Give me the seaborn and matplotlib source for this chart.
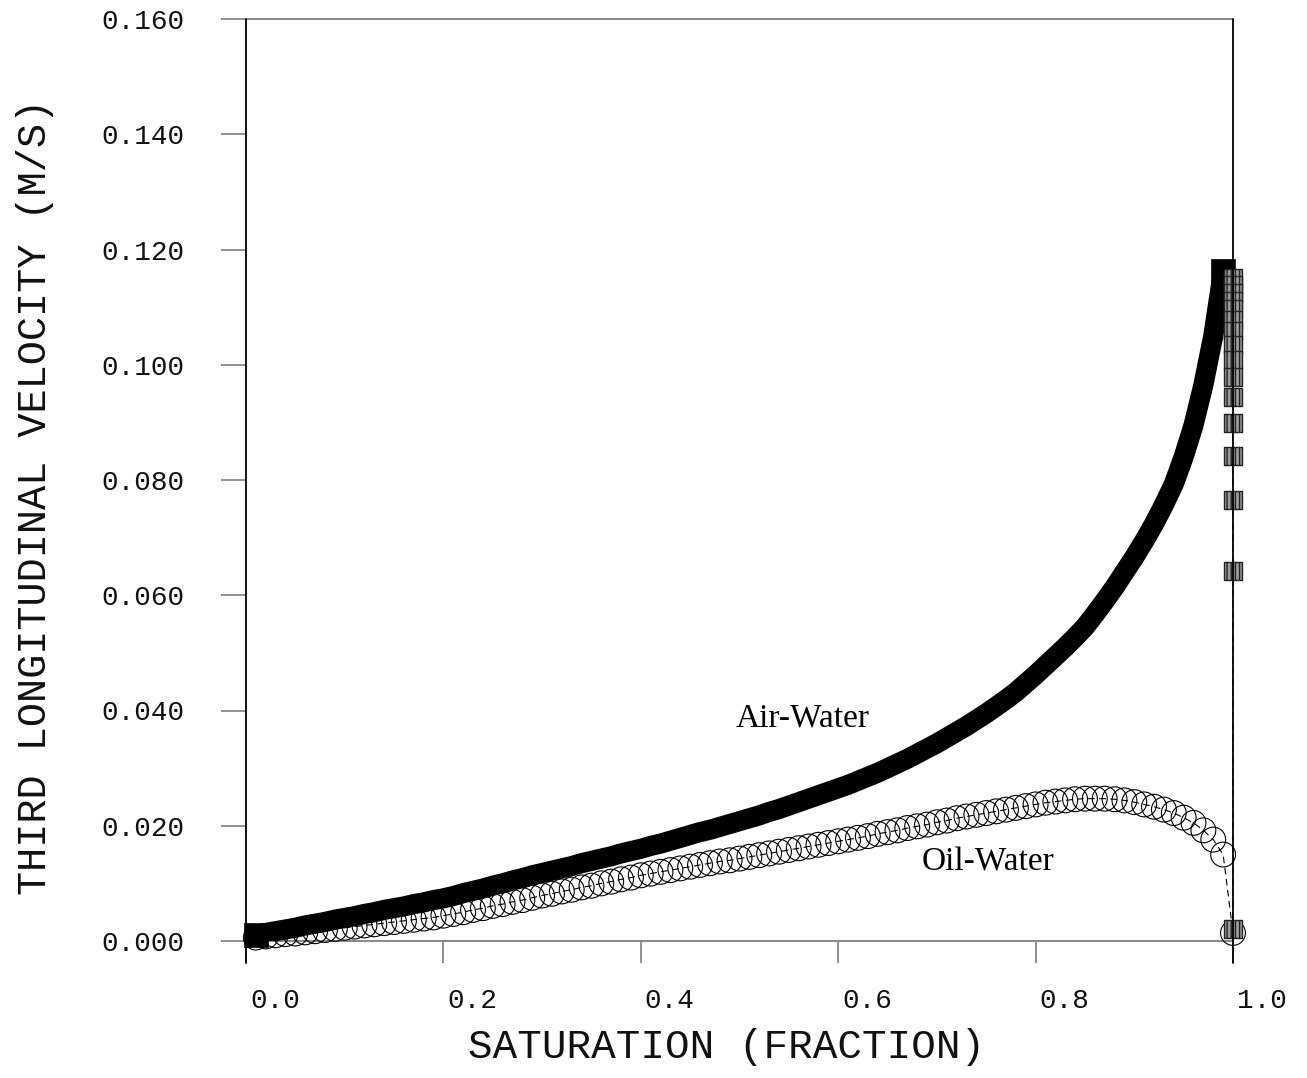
import matplotlib
matplotlib.use("Agg")
import matplotlib.pyplot as plt
import matplotlib.transforms as mtransforms
import seaborn as sns
import pandas as pd

# ---- data -------------------------------------------------------------
saturation = [i / 100 for i in range(1, 100)]

air_water = [
    0.0010, 0.0014, 0.0017, 0.0020, 0.0023, 0.0027, 0.0030, 0.0033, 0.0037, 0.0040,
    0.0043, 0.0047, 0.0050, 0.0054, 0.0057, 0.0060, 0.0064, 0.0067, 0.0071, 0.0074,
    0.0078, 0.0083, 0.0087, 0.0091, 0.0096, 0.0100, 0.0105, 0.0109, 0.0114, 0.0118,
    0.0122, 0.0126, 0.0130, 0.0135, 0.0139, 0.0143, 0.0147, 0.0152, 0.0156, 0.0160,
    0.0165, 0.0169, 0.0174, 0.0179, 0.0184, 0.0189, 0.0193, 0.0198, 0.0203, 0.0208,
    0.0213, 0.0218, 0.0224, 0.0229, 0.0235, 0.0241, 0.0247, 0.0253, 0.0259, 0.0265,
    0.0271, 0.0278, 0.0285, 0.0292, 0.0300, 0.0308, 0.0316, 0.0325, 0.0334, 0.0343,
    0.0353, 0.0363, 0.0373, 0.0384, 0.0395, 0.0407, 0.0419, 0.0432, 0.0447, 0.0462,
    0.0478, 0.0494, 0.0510, 0.0527, 0.0545, 0.0567, 0.0590, 0.0614, 0.0640, 0.0666,
    0.0694, 0.0724, 0.0757, 0.0793, 0.0840, 0.0895, 0.0965, 0.1050, 0.1163,
]

# air-water points at full saturation (velocity collapsing toward zero)
air_water_end_sat = 1.0
air_water_end = [
    0.1150, 0.1138, 0.1125, 0.1111, 0.1096, 0.1078, 0.1058, 0.1034,
    0.1008, 0.0979, 0.0944, 0.0899, 0.0842, 0.0765, 0.0642, 0.0021,
]

oil_water = [
    0.0006, 0.0008, 0.0010, 0.0012, 0.0013, 0.0015, 0.0017, 0.0019, 0.0021, 0.0023,
    0.0025, 0.0027, 0.0029, 0.0031, 0.0033, 0.0035, 0.0037, 0.0039, 0.0041, 0.0044,
    0.0047, 0.0050, 0.0054, 0.0057, 0.0061, 0.0064, 0.0068, 0.0071, 0.0075, 0.0079,
    0.0082, 0.0086, 0.0089, 0.0093, 0.0096, 0.0100, 0.0103, 0.0107, 0.0110, 0.0114,
    0.0117, 0.0120, 0.0123, 0.0126, 0.0129, 0.0132, 0.0135, 0.0138, 0.0140, 0.0143,
    0.0146, 0.0149, 0.0152, 0.0155, 0.0158, 0.0161, 0.0164, 0.0167, 0.0170, 0.0173,
    0.0176, 0.0179, 0.0182, 0.0186, 0.0189, 0.0192, 0.0196, 0.0199, 0.0202, 0.0206,
    0.0209, 0.0213, 0.0216, 0.0219, 0.0222, 0.0225, 0.0228, 0.0231, 0.0234, 0.0237,
    0.0240, 0.0242, 0.0244, 0.0246, 0.0247, 0.0247, 0.0247, 0.0246, 0.0244, 0.0241,
    0.0237, 0.0233, 0.0228, 0.0222, 0.0214, 0.0205, 0.0192, 0.0176, 0.0150,
]
oil_water_end_sat = 1.0
oil_water_end = 0.0014

x_ticks = [0.0, 0.2, 0.4, 0.6, 0.8, 1.0]
x_tick_labels = ["0.0", "0.2", "0.4", "0.6", "0.8", "1.0"]
y_ticks = [0.000, 0.020, 0.040, 0.060, 0.080, 0.100, 0.120, 0.140, 0.160]
y_tick_labels = ["0.000", "0.020", "0.040", "0.060", "0.080",
                 "0.100", "0.120", "0.140", "0.160"]

x_title = "SATURATION (FRACTION)"
y_title = "THIRD LONGITUDINAL VELOCITY (M/S)"
air_label = "Air-Water"
oil_label = "Oil-Water"

# ---- tables -------------------------------------------------------------
aw_main = pd.DataFrame({"s": saturation, "v": air_water})
aw_tail = pd.DataFrame({"s": [air_water_end_sat] * len(air_water_end), "v": air_water_end})
aw_ends = aw_main.iloc[[0, -1]]
aw_all = pd.concat([aw_main, aw_tail], ignore_index=True)
ow_all = pd.DataFrame({"s": saturation + [oil_water_end_sat],
                       "v": oil_water + [oil_water_end]})

# ---- figure -------------------------------------------------------------
sns.set_style("white")
plt.rcParams["font.family"] = ["Liberation Mono", "DejaVu Sans Mono"]
plt.rcParams["hatch.color"] = "#3a3a3a"
plt.rcParams["hatch.linewidth"] = 1.0

W, H = 1307, 1078
fig = plt.figure(figsize=(W / 100, H / 100), dpi=100)
ax = fig.add_axes([246 / W, 1 - 941 / H, (1233 - 246) / W, (941 - 19) / H])
ax.set_xlim(0, 1)
ax.set_ylim(0, 0.16)

# oil-water: open circles joined by a thin dashed line
sns.lineplot(data=ow_all, x="s", y="v", sort=False, estimator=None, ax=ax,
             color="black", linewidth=0.8, linestyle=(0, (6, 4)), zorder=2)
sns.scatterplot(data=ow_all, x="s", y="v", ax=ax, marker="o", s=320,
                facecolor="none", edgecolor="black", linewidth=0.8, zorder=3,
                clip_on=False)

# air-water: dense solid band of square markers
sns.lineplot(data=aw_all, x="s", y="v", sort=False, estimator=None, ax=ax,
             color="black", linewidth=0.8, linestyle=(0, (6, 4)), zorder=4)
sns.lineplot(data=aw_main, x="s", y="v", sort=False, estimator=None, ax=ax,
             color="black", linewidth=14.5, solid_capstyle="butt",
             solid_joinstyle="round", zorder=5)
sns.scatterplot(data=aw_ends, x="s", y="v", ax=ax, marker="s", s=300,
                color="black", edgecolor="black", linewidth=0.5, zorder=6,
                clip_on=False)
sns.scatterplot(data=aw_tail, x="s", y="v", ax=ax, marker="s", s=170,
                facecolor="#9a9a9a", edgecolor="#222222", linewidth=1.0,
                hatch="||||", zorder=7, clip_on=False)

# curve labels
ax.text(0.564, 0.0387, air_label, ha="center", va="center",
        family="Liberation Serif", fontsize=24, color="black")
ax.text(0.752, 0.0137, oil_label, ha="center", va="center",
        family="Liberation Serif", fontsize=24, color="black")

# frame: grey top/zero lines, black verticals reaching below the zero line
for side in ("top", "bottom", "left", "right"):
    ax.spines[side].set_visible(False)
ax.plot([0, 1], [1, 1], transform=ax.transAxes, color="#7f7f7f", lw=1.3,
        clip_on=False, zorder=1)
ax.plot([0, 1], [0, 0], transform=ax.transAxes, color="#7f7f7f", lw=1.3,
        clip_on=False, zorder=1)
ax.plot([0, 0], [-0.024, 1], transform=ax.transAxes, color="black", lw=1.3,
        clip_on=False, zorder=8)
ax.plot([1, 1], [-0.024, 1], transform=ax.transAxes, color="black", lw=1.3,
        clip_on=False, zorder=8)

ax.set_xticks(x_ticks)
ax.set_xticklabels(x_tick_labels)
ax.set_yticks(y_ticks)
ax.set_yticklabels(y_tick_labels)
ax.tick_params(axis="x", direction="out", length=15.8, width=1.2,
               color="#7f7f7f", pad=18, labelsize=20, labelcolor="#111111",
               bottom=True)
ax.tick_params(axis="y", direction="out", length=18, width=1.2,
               color="#7f7f7f", pad=26, labelsize=20, labelcolor="#111111",
               left=True)
ax.set_xlabel("")
ax.set_ylabel("")

# x tick labels sit a little to the right of their tick marks
shift = mtransforms.ScaledTranslation(29 / 100, 0, fig.dpi_scale_trans)
for lab in ax.get_xticklabels():
    lab.set_transform(lab.get_transform() + shift)

fig.text(727 / W, 1 - 1047 / H, x_title, ha="center", va="center",
         fontsize=29.5, color="#111111")
fig.text(35 / W, 1 - 497 / H, y_title, ha="center", va="center",
         rotation=90, fontsize=29, color="#111111")

fig.savefig("out.png", dpi=100, facecolor="white")
